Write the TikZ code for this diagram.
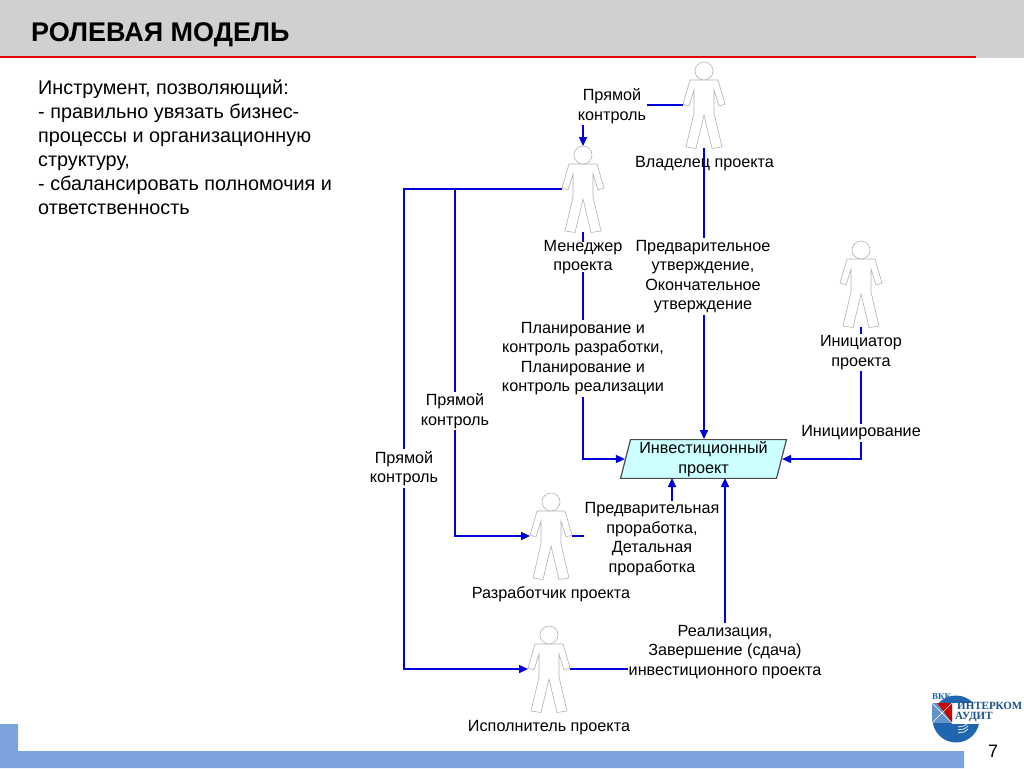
\documentclass[tikz,border=0pt]{standalone}
\usepackage{fontspec}
\setmainfont{Liberation Sans}
\newfontfamily\logofont{Liberation Serif}
\usepackage{tikz}
\usetikzlibrary{arrows.meta,shapes.geometric}

\definecolor{headgrey}{HTML}{D0D0D0}
\definecolor{footblue}{HTML}{7DA3DF}
\definecolor{linkblue}{HTML}{0000DC}
\definecolor{projcyan}{HTML}{CCFFFF}
\definecolor{logoblue}{HTML}{1F66AE}

\tikzset{
  person/.pic={
    \draw[gray!60,line width=0.6pt,fill=white]
      (14,9) -- (21,33) -- (15,35) -- (10,19) -- (10,42) -- (18,76) -- (8,77.5)
      -- (0,44) -- (-8,77.5) -- (-18,76) -- (-10,42) -- (-10,19) -- (-15,35)
      -- (-21,33) -- (-14,9) -- cycle;
    \draw[gray!60,line width=0.6pt,fill=white] (0,0) circle (9);
    \coordinate (-top) at (0,-9);
    \coordinate (-foot) at (0,77);
    \coordinate (-lhand) at (-21,34);
    \coordinate (-rhand) at (21,34);
  },
  link/.style={draw=linkblue,line width=1.5pt},
  arrowlink/.style={link,-{Triangle[length=9pt,width=8pt]}},
  label/.style={align=center,inner sep=0pt,font=\fontsize{16.2}{19.4}\selectfont},
  masked/.style={label,fill=white,inner xsep=1pt,inner ysep=2pt}
}

\begin{document}
\begin{tikzpicture}[x=1pt,y=-1pt]
 \useasboundingbox (0,0) rectangle (1024,768);
 % header and footer bands
 \fill[headgrey] (0,0) rectangle (1024,58);
 \fill[red!90!black] (0,55.7) rectangle (976,58.3);
 \fill[footblue] (0,724) -- (18,724) -- (18,751) -- (964,751) -- (964,768) -- (0,768) -- cycle;
 \node (title) [anchor=west,inner sep=0pt,font=\fontsize{27}{30}\selectfont\bfseries]
   at (31,35) {РОЛЕВАЯ МОДЕЛЬ};
 \node (intro) [anchor=north west,inner sep=0pt,align=left,font=\fontsize{19.8}{23.9}\selectfont]
   at (38,80) {Инструмент, позволяющий:\\- правильно увязать бизнес-\\процессы и организационную\\структуру,\\- сбалансировать полномочия и\\ответственность};

 % people
 \foreach \n/\x/\y in
  {
    owner/704/71, manager/583/155, initiator/861/250,
    developer/551/502, executor/549/635
  }
  {
    \pic (\n) at (\x,\y) {person};
  }

 \node (project) [draw=black!70,line width=1.2pt,fill=projcyan,trapezium,
   trapezium left angle=75.6,trapezium right angle=104.4,
   label,inner xsep=5pt,inner ysep=2pt,text width=136] at (703.5,459) {Инвестиционный\\проект};
 \coordinate (busA) at (404,300);
 \coordinate (busB) at (455,300);
 \coordinate (prepIn) at (672,478);
 \coordinate (execIn) at (725,478);

 % connectors
 \draw[arrowlink] (owner-lhand) -| (manager-top);
 \draw[arrowlink] (owner-foot) -- (owner-foot |- project.north);
 \draw[arrowlink] (manager-foot) |- (project.west);
 \draw[arrowlink] (initiator-foot) |- (project.east);
 \draw[arrowlink] (manager-lhand) -| (busA) |- (executor-lhand);
 \draw[arrowlink] (busB |- manager-lhand) -- (busB) |- (developer-lhand);
 \draw[arrowlink] (developer-rhand) -| (prepIn);
 \draw[arrowlink] (executor-rhand) -| (execIn);

 % labels, on top of the lines
 \node (ownername) [label] at (704.5,163.5) {Владелец проекта};
 \node (managername) [masked,inner ysep=-2pt] at (583,257) {Менеджер\\проекта};
 \node (initname) [masked] at (861,352.5) {Инициатор\\проекта};
 \node (devname) [label] at (551,594.5) {Разработчик проекта};
 \node (execname) [label] at (549,727.5) {Исполнитель проекта};
 \node (ctrlA) [masked] at (612,106) {Прямой\\контроль};
 \node (ctrlB) [masked] at (455,411) {Прямой\\контроль};
 \node (ctrlC) [masked] at (404,468.5) {Прямой\\контроль};
 \node (approve) [masked] at (703,276.5) {Предварительное\\утверждение,\\Окончательное\\утверждение};
 \node (plan) [masked] at (583,358.5) {Планирование и\\контроль разработки,\\Планирование и\\контроль реализации};
 \node (start) [masked] at (861,433) {Инициирование};
 \node (prep) [masked] at (652,539) {Предварительная\\проработка,\\Детальная\\проработка};
 \node (impl) [masked] at (725,652) {Реализация,\\Завершение (сдача)\\инвестиционного проекта};

 % logo and page number
 \fill[logoblue] (956,719) circle (23.5);
 \fill[white] (952,703) rectangle (1024,724);
 \fill[logoblue!70] (932,703) rectangle (952,723);
 \fill[red!80!black] (937,703) -- (952,703) -- (952,723) -- (945,713) -- cycle;
 \draw[white,line width=0.6pt] (932,703) -- (952,723) (932,723) -- (952,703);
 \foreach \w in {727,730,733}
  {
    \draw[white,line width=0.7pt] (958,\w) .. controls (965,\w-2) and (962,\w+1) .. (968,\w-4);
  }
 \node (logotop) [anchor=west,inner sep=0pt,text=logoblue,font=\logofont\fontsize{9}{9}\selectfont\bfseries]
   at (932,697) {ВКК};
 \node (logoname) [anchor=west,inner sep=0pt,text=logoblue!80!black,font=\logofont\fontsize{11}{11}\selectfont\bfseries]
   at (957,705.5) {ИНТЕРКОМ};
 \node (logosub) [anchor=west,inner sep=0pt,text=logoblue!80!black,font=\logofont\fontsize{11}{11}\selectfont\bfseries]
   at (955,717.5) {АУДИТ};
 \node (pagenum) [inner sep=0pt,font=\fontsize{18}{20}\selectfont] at (993,751.5) {7};
\end{tikzpicture}
\end{document}
